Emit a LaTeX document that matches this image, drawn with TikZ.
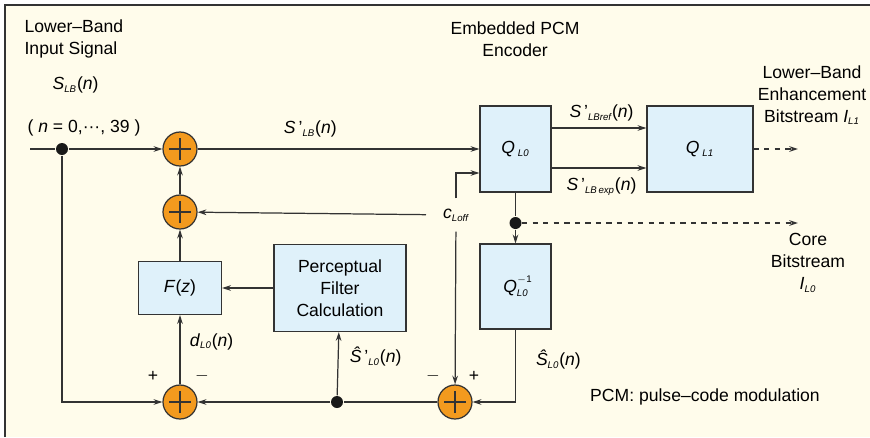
\documentclass[tikz,border=0pt]{standalone}
\usepackage{fontspec}
\setmainfont{Liberation Sans}
\usepackage{tikz}
\usetikzlibrary{arrows.meta,calc,positioning}
\definecolor{bgyellow}{HTML}{FFFCEB}
\definecolor{boxblue}{HTML}{DFF1FA}
\definecolor{sumorange}{HTML}{F39A1E}
\definecolor{linegray}{HTML}{333333}
\newcommand{\lsub}[1]{\textsubscript{\itshape\fontsize{5.5}{6}\selectfont #1}}
\newcommand{\lsig}[2]{\textit{#1}\lsub{#2}(\textit{n})}

\begin{document}
\begin{tikzpicture}[x=0.02cm, y=-0.02cm, font=\fontsize{10}{12.5}\selectfont,
    line width=0.7pt, draw=linegray,
    arr/.style={-{Stealth[length=5pt,width=3.2pt]}},
    sumnode/.style={circle, draw=linegray, fill=sumorange, minimum size=0.68cm, inner sep=0pt,
        path picture={\draw[linegray, line width=0.6pt]
            (path picture bounding box.center) ++(-0.22cm,0) -- ++(0.44cm,0)
            (path picture bounding box.center) ++(0,-0.22cm) -- ++(0,0.44cm);}},
    blockbox/.style={rectangle, draw=linegray, fill=boxblue, align=center, inner sep=0pt},
    dot/.style={circle, fill=black!90, inner sep=0pt, minimum size=0.24cm}]

        \useasboundingbox (0,0) rectangle (870,437);
        \fill[bgyellow] (5,5) rectangle (870,437);
        \draw[linegray, line width=1pt] (5,437) -- (5,5) -- (870,5);

        \coordinate (in) at (30,149);
        \coordinate (out1) at (798,149);
        \coordinate (out0) at (798,223);

        \node[dot] (split) at (62,149) {};
        \node[sumnode] (sum1) at (180,149) {};
        \node[sumnode] (sum2) at (180,212) {};
        \node[blockbox, minimum width=1.66cm, minimum height=1.06cm] (fz) at (180,288) {\textit{F}(\textit{z})};
        \node[sumnode] (sum3) at (180,402) {};
        \node[dot] (tap) at (337,402) {};
        \node[blockbox, minimum width=2.64cm, minimum height=1.74cm] (pfc) at (340,288) {Perceptual\\Filter\\Calculation};
        \node[sumnode] (sum4) at (455,402) {};
        \node[blockbox, minimum width=1.42cm, minimum height=1.72cm] (ql0) at (515.5,149) {\textit{Q}\,\lsub{L0}};
        \node[dot] (split2) at (515.5,223) {};
        \node[blockbox, minimum width=1.42cm, minimum height=1.7cm] (iql0) at (515.5,286.5)
            {\textit{Q}\rlap{\raisebox{1.1ex}{\fontsize{5.5}{6}\selectfont $-$1}}\raisebox{-0.45ex}{\itshape\fontsize{5.5}{6}\selectfont L0}};
        \node[blockbox, minimum width=2.12cm, minimum height=1.72cm] (ql1) at (700,149) {\textit{Q}\,\lsub{L1}};
        \node[inner xsep=0.33cm, inner ysep=0.2cm] (cloff) at (456,215) {\textit{c}\lsub{Loff}};

        % main path
        \draw (in) -- (split);
        \draw[arr] (split) -- (sum1);
        \draw[arr] (sum1) -- node[above, pos=0.4, yshift=3pt] {\textit{S}\,'\lsub{LB}(\textit{n})} (ql0);
        \draw[arr] (split) |- (sum3);
        \draw[arr] (sum3) -- node[right, xshift=2pt, yshift=0.16cm] {\textit{d}\lsub{L0}(\textit{n})} (fz);
        \draw[arr] (fz) -- (sum2);
        \draw[arr] (sum2) -- (sum1);
        \draw[arr] (pfc) -- (fz);
        \draw[arr] (tap) -- node[right, xshift=3pt, yshift=0.14cm] {\textit{Ŝ}\,'\lsub{L0}(\textit{n})} (pfc);
        \draw (sum4) -- (tap);
        \draw[arr] (tap) -- (sum3);

        % encoder
        \draw (ql0) -- (split2);
        \draw[arr] (split2) -- (iql0);
        \draw[arr, dashed] (split2) -- (out0);
        \draw[arr] (iql0.south) |- node[pos=0.21, right, xshift=8pt] {\textit{Ŝ}\lsub{L0}(\textit{n})} (sum4);
        \draw[arr] ([yshift=0.42cm]ql0.east) -- node[above, xshift=0.05cm] {\textit{S}\,'\lsub{LBref}(\textit{n})} ([yshift=0.42cm]ql1.west);
        \draw[arr] ([yshift=-0.38cm]ql0.east) -- node[below, xshift=0.05cm, yshift=-2pt] {\textit{S}\,'\lsub{LB\,exp}(\textit{n})} ([yshift=-0.38cm]ql1.west);
        \draw[arr, dashed] (ql1) -- (out1);

        % offset
        \draw[arr] (cloff) |- ([yshift=-0.48cm]ql0.west);
        \draw[arr] (cloff) -- (sum2);
        \draw[arr] (cloff) -- (sum4);

        % signs
        \node (p3) at (153,376) {+};
        \node (m3) at (202,376) {$-$};
        \node (m4) at (433,376) {$-$};
        \node (p4) at (474,376) {+};

        % texts
        \node[anchor=west, align=left, inner sep=0pt] (insig) at (24,39) {Lower--Band\\Input Signal};
        \node[anchor=west, inner sep=0pt] (slb) at (52,85) {\lsig{S}{LB}};
        \node[anchor=west, inner sep=0pt] (range) at (27,128) {( \textit{n} = 0,\textperiodcentered\textperiodcentered\textperiodcentered, 39 )};
        \node[align=center, inner sep=0pt] (enc) at (515,39) {Embedded PCM\\Encoder};
        \node[align=center, inner sep=0pt] (enh) at (812,95) {Lower--Band\\Enhancement\\Bitstream \textit{I}\lsub{L1}};
        \node[align=center, inner sep=0pt] (core) at (808,263) {Core\\Bitstream\\\textit{I}\lsub{L0}};
        \node[inner sep=0pt] (pcm) at (705,397) {PCM: pulse--code modulation};
\end{tikzpicture}
\end{document}
